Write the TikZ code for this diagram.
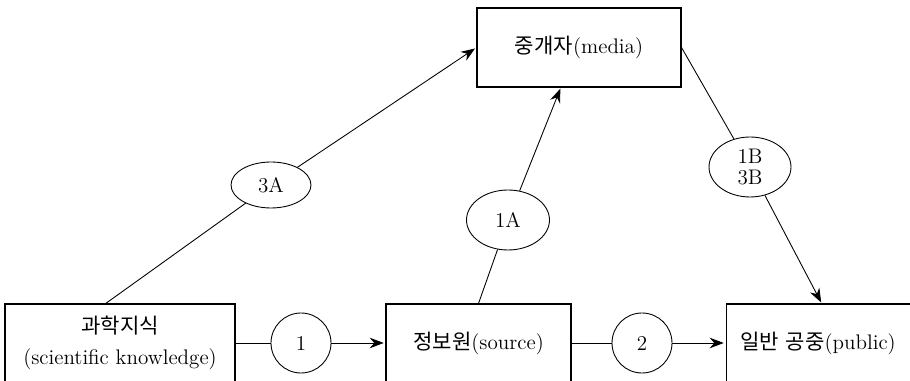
\documentclass[tikz,border=0pt]{standalone}
\usepackage{fontspec}
\newfontfamily\kr{Noto Sans CJK KR}
\usetikzlibrary{shapes.geometric,arrows.meta}

\begin{document}
\begin{tikzpicture}[x=0.02cm, y=-0.02cm,
  font=\fontsize{12}{14}\selectfont,
  box/.style={rectangle, draw, line width=0.6pt, minimum height=1.56cm, align=center},
  tag/.style={ellipse, draw, line width=0.5pt, inner sep=0pt, align=center},
  num/.style={circle, draw, line width=0.5pt, minimum size=1.2cm},
  link/.style={line width=0.5pt},
  arr/.style={-{Stealth[length=2.8mm,width=2.1mm]}, line width=0.5pt, shorten >=1pt}
]
\clip (0,0) rectangle (910,381);
% boxes
\node[box, minimum width=4.08cm, minimum height=1.58cm] (media) at (579,47.5) {{\kr 중개자}(media)};
\node[box, minimum width=4.6cm, font=\fontsize{12}{17.6}\selectfont] (know) at (120,343) {{\kr 과학지식}\\(scientific knowledge)};
\node[box, minimum width=3.7cm] (source) at (478.5,343) {{\kr 정보원}(source)};
\node[box, text width=3.8cm, inner xsep=0.28cm, align=left] (public) at (835,343) {{\kr 일반 공중}(public)};
% labels on the paths
\node[num] (n1) at (301,343) {1};
\node[num] (n2) at (642,343) {2};
\node[tag, minimum width=1.6cm, minimum height=0.92cm] (t3A) at (271,185) {3A};
\node[tag, minimum width=1.66cm, minimum height=1.2cm] (t1A) at (508,220) {1A};
\node[tag, minimum width=1.64cm, minimum height=1.2cm, font=\fontsize{12}{11.5}\selectfont] (t1B) at (750,167) {1B\\3B};
\coordinate (k3) at (105,304);
\coordinate (m1) at (561,87);
\coordinate (p1) at (822,304);
% connectors
\draw[link] (know) -- (n1); \draw[arr] (n1) -- (source);
\draw[link] (source) -- (n2); \draw[arr] (n2) -- (public.west);
\draw[link] (k3) -- (t3A); \draw[arr] (t3A) -- (media.west);
\draw[link] (source.north) -- (t1A); \draw[arr] (t1A) -- (m1);
\draw[link] (media.east) -- (t1B); \draw[arr] (t1B) -- (p1);
\end{tikzpicture}
\end{document}
